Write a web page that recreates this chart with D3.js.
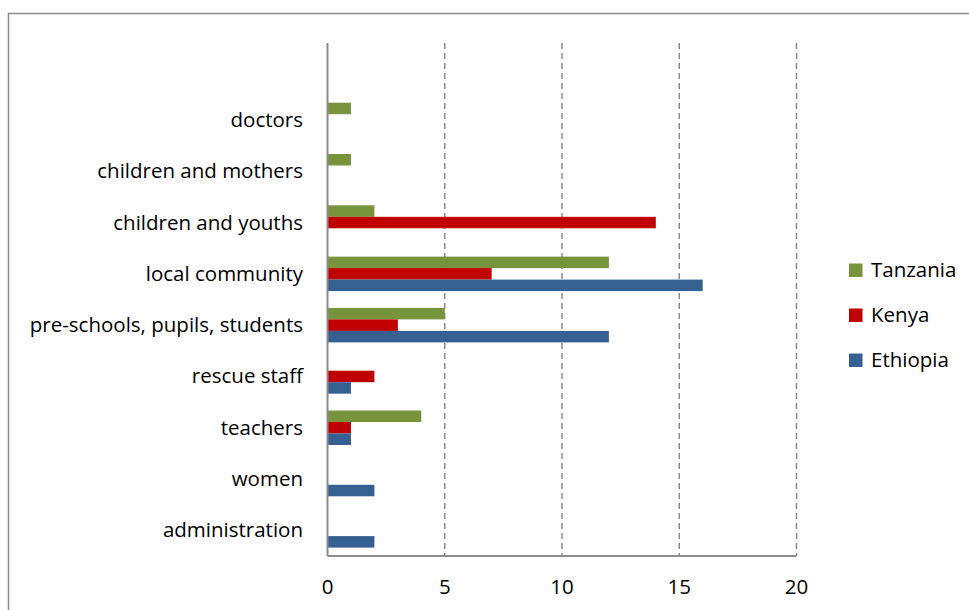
<!DOCTYPE html>
<html>
<head>
<meta charset="utf-8">
<script src="https://cdn.jsdelivr.net/npm/d3@7"></script>
<style>
  html, body { margin: 0; padding: 0; background: #fff; }
  svg { display: block; }
  text { font-family: "Open Sans", sans-serif; fill: #000; }
</style>
</head>
<body>
<svg id="chart" width="969" height="610"></svg>
<script>
// Target groups, top to bottom
const categories = [
  "doctors",
  "children and mothers",
  "children and youths",
  "local community",
  "pre-schools, pupils, students",
  "rescue staff",
  "teachers",
  "women",
  "administration"
];
const seriesNames = ["Tanzania", "Kenya", "Ethiopia"];
const tanzania = [1, 1, 2, 12, 5, 0, 4, 0, 0];
const kenya    = [0, 0, 14, 7, 3, 2, 1, 0, 0];
const ethiopia = [0, 0, 0, 16, 12, 1, 1, 2, 2];
const xTicks = [0, 5, 10, 15, 20];
const colors = ["#77933C", "#C00000", "#376092"];

const seriesValues = [tanzania, kenya, ethiopia];
const svg = d3.select("#chart");
const fontSize = 20.5;

// Outer chart frame
svg.append("rect")
  .attr("x", 8.5).attr("y", 13.5)
  .attr("width", 975).attr("height", 620)
  .attr("fill", "none").attr("stroke", "#8c8c8c").attr("stroke-width", 1.5);

const plot = { left: 327.5, right: 796.5, top: 43, bottom: 556 };

const x = d3.scaleLinear().domain([0, 20]).range([plot.left, plot.right]);

// One spare slot above the first group keeps the layout of the plot area
const y = d3.scaleBand()
  .domain(["\u0000"].concat(categories))
  .range([plot.top, plot.bottom]);

const groupHeight = y.bandwidth() * 0.672;
const ySeries = d3.scaleBand()
  .domain(seriesNames)
  .range([(y.bandwidth() - groupHeight) / 2, (y.bandwidth() + groupHeight) / 2]);

// Dashed vertical gridlines
svg.append("g").selectAll("line")
  .data(xTicks.filter(t => t > 0))
  .join("line")
  .attr("x1", d => x(d)).attr("x2", d => x(d))
  .attr("y1", plot.top).attr("y2", plot.bottom)
  .attr("stroke", "#8c8c8c").attr("stroke-width", 1.5)
  .attr("stroke-dasharray", "6,4");

// Bars
const barData = [];
categories.forEach((c, i) => {
  seriesNames.forEach((s, j) => {
    const v = seriesValues[j][i];
    if (v > 0) barData.push({ category: c, series: s, value: v, color: colors[j] });
  });
});

svg.append("g").selectAll("rect")
  .data(barData)
  .join("rect")
  .attr("x", x(0))
  .attr("y", d => y(d.category) + ySeries(d.series))
  .attr("width", d => x(d.value) - x(0))
  .attr("height", ySeries.bandwidth())
  .attr("fill", d => d.color);

// Axes lines
svg.append("line")
  .attr("x1", plot.left).attr("x2", plot.left)
  .attr("y1", plot.top).attr("y2", plot.bottom)
  .attr("stroke", "#8c8c8c").attr("stroke-width", 2);
svg.append("line")
  .attr("x1", plot.left).attr("x2", plot.right)
  .attr("y1", plot.bottom).attr("y2", plot.bottom)
  .attr("stroke", "#8c8c8c").attr("stroke-width", 2);

// Category labels
svg.append("g").selectAll("text")
  .data(categories)
  .join("text")
  .attr("x", 303)
  .attr("y", d => y(d) + y.bandwidth() / 2 + 7)
  .attr("text-anchor", "end")
  .attr("font-size", fontSize)
  .text(d => d);

// Value axis tick labels
svg.append("g").selectAll("text")
  .data(xTicks)
  .join("text")
  .attr("x", d => x(d))
  .attr("y", 594)
  .attr("text-anchor", "middle")
  .attr("font-size", fontSize)
  .text(d => d);

// Legend
const legend = svg.append("g").selectAll("g")
  .data(seriesNames)
  .join("g")
  .attr("transform", (d, i) => `translate(849, ${277 + i * 45})`);
legend.append("rect")
  .attr("x", 0).attr("y", -13.5)
  .attr("width", 13.5).attr("height", 13.5)
  .attr("fill", (d, i) => colors[i]);
legend.append("text")
  .attr("x", 22).attr("y", 0)
  .attr("font-size", fontSize)
  .text(d => d);
</script>
</body>
</html>
